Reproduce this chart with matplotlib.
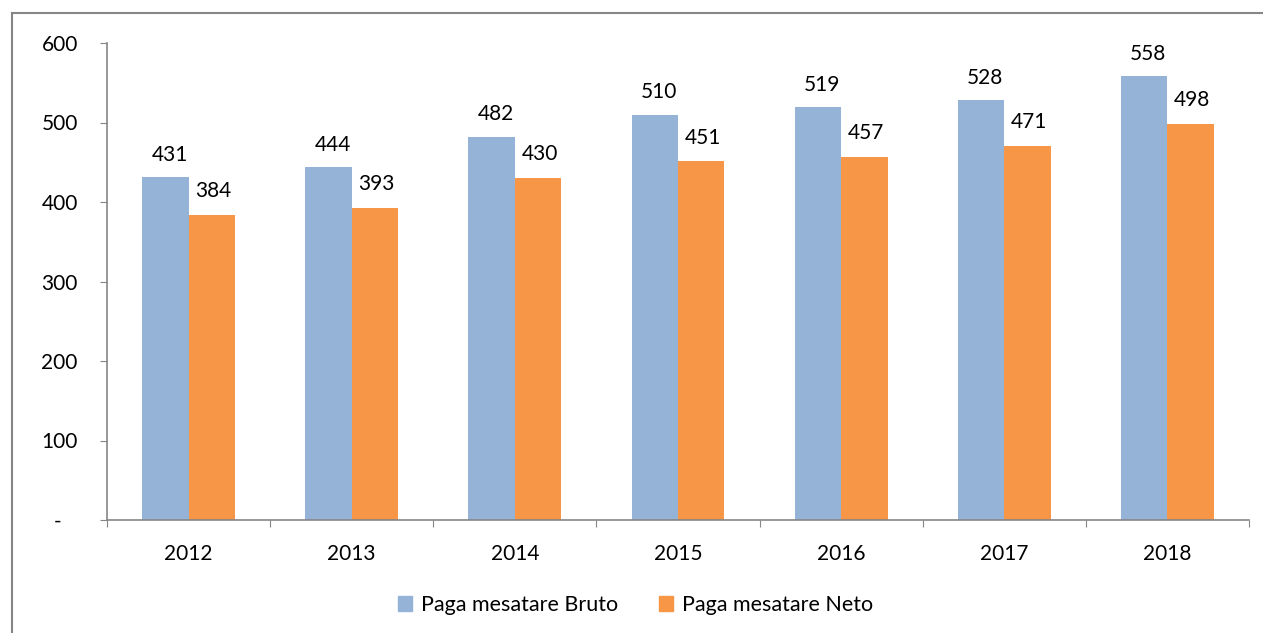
import matplotlib.pyplot as plt
import numpy as np
from matplotlib.lines import Line2D
from matplotlib.patches import Patch

years = ['2012', '2013', '2014', '2015', '2016', '2017', '2018']
bruto = [431, 444, 482, 510, 519, 528, 558]
neto = [384, 393, 430, 451, 457, 471, 498]
yticks = [0, 100, 200, 300, 400, 500, 600]
ytick_labels = ['-   ', '100', '200', '300', '400', '500', '600']

blue = '#95B3D7'
orange = '#F79646'
grey = '#868686'
fs = 15

plt.rcParams['font.family'] = ['Lato', 'DejaVu Sans']

fig = plt.figure(figsize=(12.63, 6.33), dpi=100)
ax = fig.add_axes([107 / 1263, 1 - 520 / 633, (1249 - 107) / 1263, (520 - 43) / 633])

x = np.arange(len(years))
w = 0.285
ax.bar(x - w / 2, bruto, w, color=blue)
ax.bar(x + w / 2, neto, w, color=orange)

for xi, b, n in zip(x, bruto, neto):
    ax.annotate(str(b), (xi - w / 2, b), xytext=(3, 9), textcoords='offset points',
                ha='center', va='bottom', fontsize=fs)
    ax.annotate(str(n), (xi + w / 2, n), xytext=(1, 10), textcoords='offset points',
                ha='center', va='bottom', fontsize=fs)

ax.set_xlim(-0.5, len(years) - 0.5)
ax.set_ylim(0, 600)
ax.set_yticks(yticks)
ax.set_yticklabels(ytick_labels, fontsize=fs)
ax.set_xticks(np.arange(len(years) + 1) - 0.5)
ax.set_xticklabels([])
ax.set_xticks(x, minor=True)
ax.set_xticklabels(years, minor=True, fontsize=fs)
ax.tick_params(axis='x', which='major', length=5, color=grey, direction='out')
ax.tick_params(axis='x', which='minor', length=0, pad=17)
ax.tick_params(axis='y', length=5, color=grey, pad=16)

for s in ['top', 'right']:
    ax.spines[s].set_visible(False)
for s in ['left', 'bottom']:
    ax.spines[s].set_color(grey)
    ax.spines[s].set_linewidth(1.2)

handles = [Patch(color=blue, label='Paga mesatare Bruto'),
           Patch(color=orange, label='Paga mesatare Neto')]
fig.legend(handles=handles, loc='center', bbox_to_anchor=(636 / 1263, 1 - 605 / 633),
           ncol=2, frameon=False, fontsize=15.5, handlelength=0.62, handleheight=0.7,
           columnspacing=1.9, handletextpad=0.45)

# outer chart frame
x0, y0 = 12 / 1263, 1 - 13 / 633
fig.add_artist(Line2D([x0, 1], [y0, y0], color=grey, lw=1.5, transform=fig.transFigure))
fig.add_artist(Line2D([x0, x0], [0, y0], color=grey, lw=1.5, transform=fig.transFigure))

fig.savefig('out.png', dpi=100)
